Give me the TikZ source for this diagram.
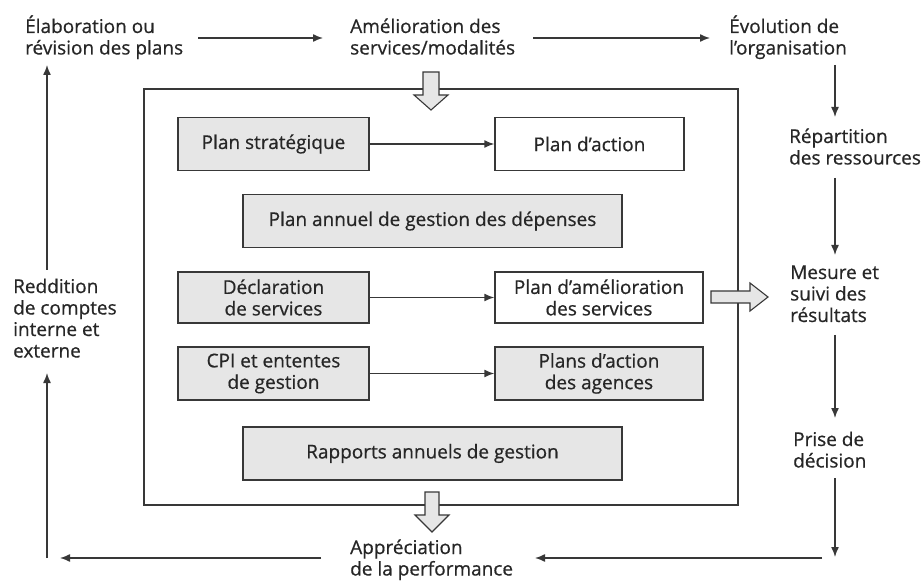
\documentclass[tikz,border=0pt]{standalone}
\usepackage{fontspec}
\setmainfont{Open Sans}[FakeBold=0.6]
\usetikzlibrary{arrows.meta}
\definecolor{txt}{HTML}{262626}
\definecolor{ln}{HTML}{383838}
\definecolor{boxfill}{HTML}{E6E6E6}
\begin{document}
\begin{tikzpicture}[x=1pt,y=-1pt,
  font=\fontsize{19}{21.5}\selectfont,
  lbl/.style={align=left, inner sep=0pt, text=txt, anchor=base west},
  boxg/.style={draw=ln, line width=1.4pt, fill=boxfill, minimum height=53pt,
    inner sep=0pt, align=center, text=txt},
  boxw/.style={boxg, fill=white},
  arr/.style={draw=ln, line width=1.4pt, -{Latex[length=10pt,width=8pt]}},
  frame/.style={draw=ln, line width=1.4pt},
  fat/.style={draw=ln, line width=1.1pt, fill=boxfill, line join=miter},
  % hollow block arrow: length, half shaft, half head, head length
  pics/fatarrow/.style n args={4}{code={
    \draw[fat] (0,-#2) -- ({#1-#4},-#2) -- ({#1-#4},-#3) -- (#1,0)
      -- ({#1-#4},#3) -- ({#1-#4},#2) -- (0,#2) -- cycle;}}]
\useasboundingbox[fill=white] (0,0) rectangle (922,588);

% outer frame
\draw[frame] (144,89) rectangle (738,505);

% plans inside the frame
\node[boxg, minimum width=191pt] (ps)  at (273.5,144)   {Plan stratégique};
\node[boxw, minimum width=189pt] (pa)  at (589.5,144)   {Plan d’action};
\node[boxg, minimum width=379pt] (pag) at (432.5,221)   {Plan annuel de gestion des dépenses};
\node[boxg, minimum width=191pt, minimum height=51pt] (ds)  at (273.5,297.5)
  {Déclaration\\de services};
\node[boxw, minimum width=208pt, minimum height=51pt] (pam) at (599,297.5)
  {Plan d’amélioration\\des services};
\node[boxg, minimum width=191pt] (cpi) at (273.5,373.5) {CPI et ententes\\de gestion};
\node[boxg, minimum width=208pt] (paa) at (599,373.5)   {Plans d’action\\des agences};
\node[boxg, minimum width=379pt] (rag) at (432.5,453.5) {Rapports annuels de gestion};

\draw[arr] (ps)  -- (pa);
\draw[arr] (ds)  -- (pam);
\draw[arr] (cpi) -- (paa);

% the cycle around the frame (nodes placed by the baseline of their last line)
\node[lbl] (elab)  at (25,54.5)   {Élaboration ou\\révision des plans};
\node[lbl] (amel)  at (350,54.5)  {Amélioration des\\services/modalités};
\node[lbl] (evol)  at (729,54.5)  {Évolution de\\l’organisation};
\node[lbl] (rep)   at (789,164.5) {Répartition\\des ressources};
\node[lbl] (mes)   at (790,322)   {Mesure et\\suivi des\\résultats};
\node[lbl] (prise) at (793,467.5) {Prise de\\décision};
\node[lbl] (appr)  at (350,575.5) {Appréciation\\de la performance};
\node[lbl] (redd)  at (13,357.5)  {Reddition\\de comptes\\interne et\\externe};

\coordinate (cornerR) at (835,557);
\coordinate (turnR)   at (822,558);
\coordinate (cornerL) at (47,558);

\draw[arr] ([shift={(173,-16.5)}]elab.base west) -- ([shift={(-27,-16.5)}]amel.base west);
\draw[arr] ([shift={(183,-16.5)}]amel.base west) -- ([shift={(-19,-16.5)}]evol.base west);
\draw[arr] ([shift={(106,10.5)}]evol.base west) -- ([shift={(46,-47.5)}]rep.base west);
\draw[arr] ([shift={(46,13.5)}]rep.base west)   -- ([shift={(45,-67)}]mes.base west);
\draw[arr] ([shift={(45,13)}]mes.base west)     -- ([shift={(42,-49.5)}]prise.base west);
\draw[arr] ([shift={(42,10.5)}]prise.base west) -- (cornerR);
\draw[arr] (turnR) -- ([shift={(185,-17.5)}]appr.base west);
\draw[arr] ([shift={(-29,-17.5)}]appr.base west) -- ([xshift=13pt]cornerL);
\draw[arr] (cornerL) -- ([shift={(34,15.5)}]redd.base west);
\draw[arr] ([shift={(34,-87.5)}]redd.base west) -- ([shift={(22,10.5)}]elab.base west);

% hollow block arrows into and out of the frame
\pic[rotate=-90] at (431,72)  {fatarrow={38}{8}{17}{15}};
\pic[rotate=-90] at (432,492) {fatarrow={40}{7}{17}{17}};
\pic at (711,297) {fatarrow={57}{6}{14}{18}};
\end{tikzpicture}
\end{document}
